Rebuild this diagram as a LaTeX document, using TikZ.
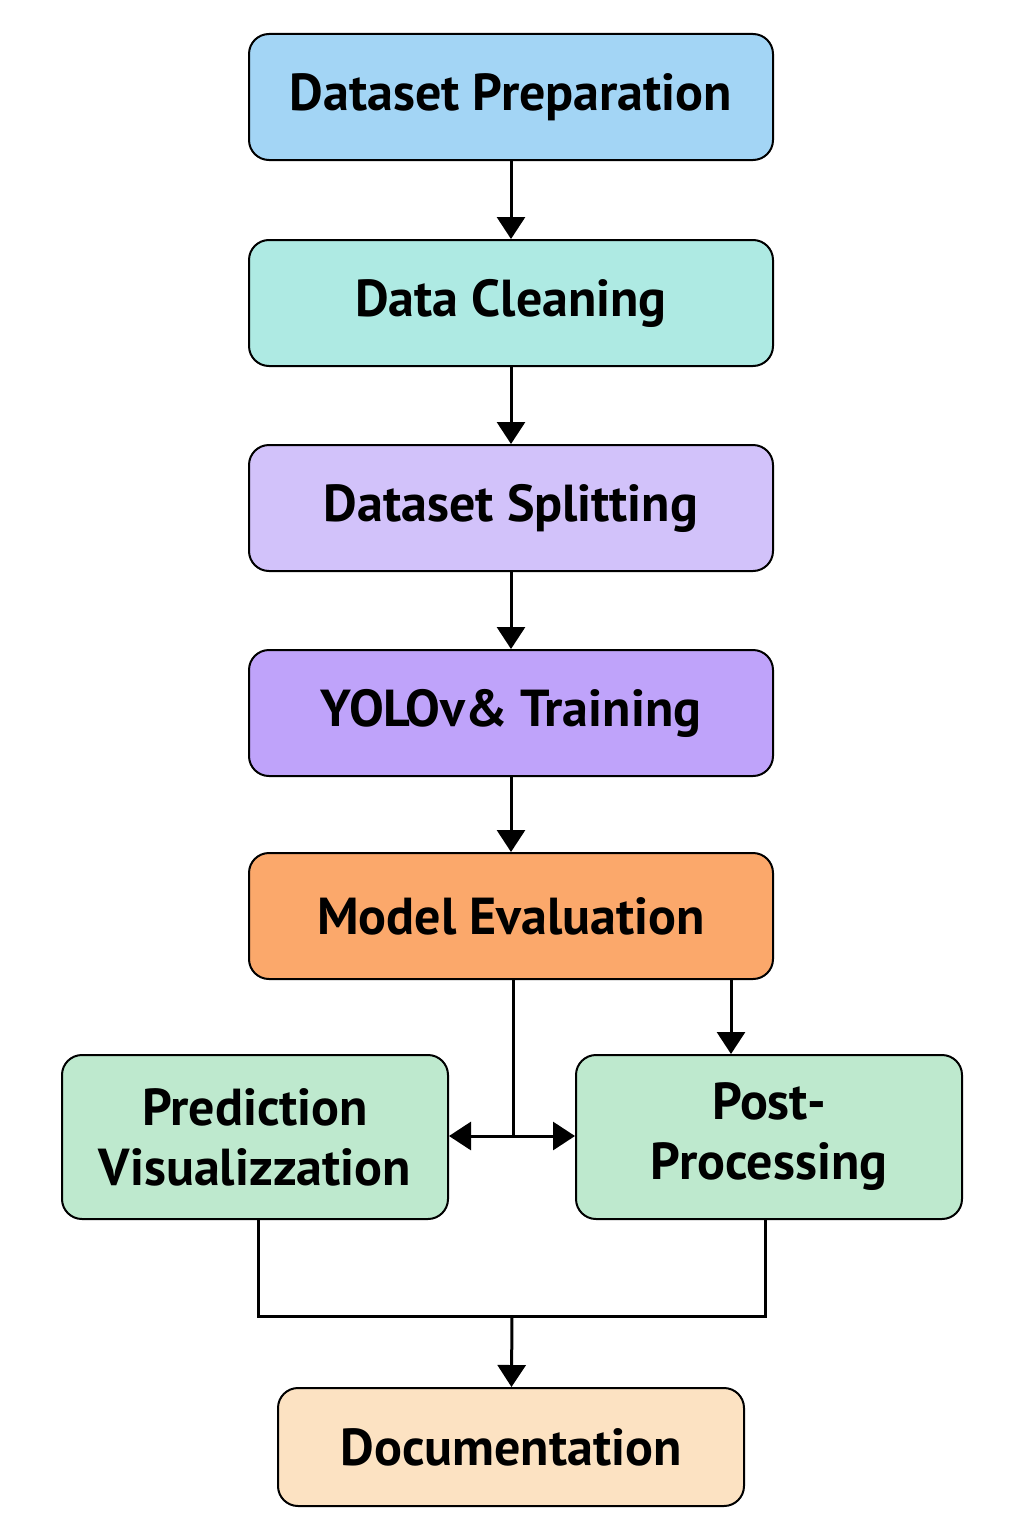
\documentclass[tikz,border=0pt]{standalone}
\usepackage{fontspec}
\setmainfont{PT Sans}
\usetikzlibrary{arrows.meta,positioning}

\definecolor{prepblue}{HTML}{A3D5F5}
\definecolor{cleanmint}{HTML}{AEEAE3}
\definecolor{splitlilac}{HTML}{D2C2FA}
\definecolor{trainviolet}{HTML}{BFA3FA}
\definecolor{evalorange}{HTML}{FBA86B}
\definecolor{postgreen}{HTML}{BEE9CE}
\definecolor{docpeach}{HTML}{FCE2C2}

\begin{document}
\begin{tikzpicture}[x=0.5pt,y=-0.5pt,>={Triangle[width=14pt,length=11pt]},
 box/.style={draw,line width=1pt,rounded corners=10pt,align=center,
 minimum width=262pt,minimum height=63pt,inner sep=0pt,
 font=\fontsize{26}{30}\selectfont\bfseries},
 flow/.style={line width=1.5pt}]
\useasboundingbox (0,0) rectangle (1024,1536);
\node[box,fill=prepblue] (prep) at (511,97) {Dataset Preparation};
\node[box,fill=cleanmint] (clean) at (511,303) {Data Cleaning};
\node[box,fill=splitlilac] (split) at (511,508) {Dataset Splitting};
\node[box,fill=trainviolet] (train) at (511,713) {YOLOv\& Training};
\node[box,fill=evalorange] (eval) at (511,916) {Model Evaluation};
\node[box,fill=postgreen,minimum width=193pt,minimum height=82pt]
 (vis) at (255,1137) {Prediction\\Visualizzation};
\node[box,fill=postgreen,minimum width=193pt,minimum height=82pt]
 (post) at (769,1137) {Post-\\Processing};
\node[box,fill=docpeach,minimum width=233pt,minimum height=59pt]
 (doc) at (511,1447) {Documentation};
% main chain
\draw[flow,->] (prep) -- (clean);
\draw[flow,->] (clean) -- (split);
\draw[flow,->] (split) -- (train);
\draw[flow,->] (train) -- (eval);
% split after evaluation
\coordinate (fork) at (513,1136);
\draw[flow] ([xshift=1pt]eval.south) -- (fork);
\draw[flow,<->] (vis.east |- fork) -- (post.west |- fork);
\draw[flow,->] ([xshift=110pt]eval.south) -- ([xshift=110pt]eval.south |- post.north);
% merge into documentation
\coordinate (merge) at (512,1316);
\draw[flow] ([xshift=1.5pt]vis.south) |- (merge) -| ([xshift=-2pt]post.south);
\draw[flow,->] (merge) -- (doc);
\end{tikzpicture}
\end{document}
